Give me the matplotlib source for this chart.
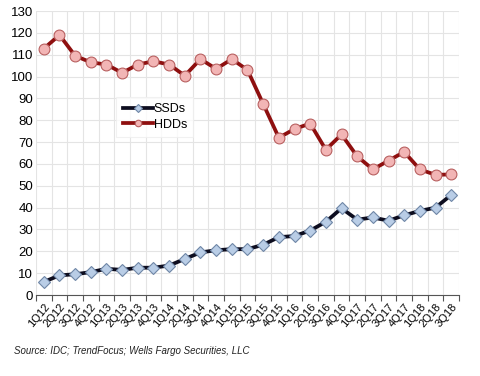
import matplotlib
matplotlib.use("Agg")
import matplotlib.pyplot as plt
import matplotlib.transforms as mtransforms
import numpy as np

plt.rcParams['font.family'] = ['Liberation Sans', 'DejaVu Sans']

quarters = ["1Q12", "2Q12", "3Q12", "4Q12", "1Q13", "2Q13", "3Q13", "4Q13",
            "1Q14", "2Q14", "3Q14", "4Q14", "1Q15", "2Q15", "3Q15", "4Q15",
            "1Q16", "2Q16", "3Q16", "4Q16", "1Q17", "2Q17", "3Q17", "4Q17",
            "1Q18", "2Q18", "3Q18"]
ssd = [6, 9, 9.5, 10.5, 12, 11.5, 12.5, 12.5, 13.5, 16.5, 19.5, 20.5, 21, 21,
       23, 26.5, 27, 29.5, 33.5, 39.7, 34.5, 35.5, 34, 36.5, 38.5, 40, 45.8]
hdd = [112.8, 119, 109.5, 106.5, 105.5, 101.7, 105.5, 107, 105.5, 100.4, 108,
       103.5, 108, 103, 87.5, 72, 76, 78.5, 66.5, 73.5, 63.5, 57.5, 61.5, 65.5,
       57.5, 55, 55.2]
yticks = list(range(0, 131, 10))
source = "Source: IDC; TrendFocus; Wells Fargo Securities, LLC"

fig = plt.figure(figsize=(4.81, 3.76), dpi=100)
ax = fig.add_axes([0.0748, 0.2154, 0.8795, 0.7553])

x = np.arange(len(quarters))
ax.plot(x, ssd, color='#0d0d1f', lw=2.7, marker='D', ms=6.5,
        markerfacecolor='#b9cde6', markeredgecolor='#6f86a6', markeredgewidth=0.8,
        label='SSDs', zorder=3)
ax.plot(x, hdd, color='#8e0f0f', lw=2.7, marker='o', ms=7.8,
        markerfacecolor='#f2b5b5', markeredgecolor='#b86060', markeredgewidth=0.8,
        label='HDDs', zorder=3)

ax.set_xlim(-0.5, len(quarters) - 0.5)
ax.set_ylim(0, 130)
ax.set_yticks(yticks)
ax.set_yticklabels([str(v) for v in yticks], fontsize=9.5)
ax.set_xticks(x)
ax.set_xticklabels(quarters, rotation=50, ha='right', rotation_mode='anchor',
                   fontsize=8)
offset = mtransforms.ScaledTranslation(-3 / 72, 0, fig.dpi_scale_trans)
for lab in ax.get_xticklabels():
    lab.set_transform(lab.get_transform() + offset)
ax.set_xticks(np.arange(len(quarters) + 1) - 0.5, minor=True)
ax.tick_params(axis='x', which='major', length=0, pad=5)
ax.tick_params(axis='x', which='minor', length=4, color='#555555', width=0.8)
ax.tick_params(axis='y', length=0, pad=2)

ax.grid(False)
for v in yticks:
    ax.axhline(v, color='#e4e4e4', lw=0.8, zorder=0)
for b in np.arange(len(quarters) + 1) - 0.5:
    ax.axvline(b, color='#e4e4e4', lw=0.8, zorder=0)

for s in ['top', 'right', 'left']:
    ax.spines[s].set_visible(False)
ax.spines['bottom'].set_color('#555555')
ax.spines['bottom'].set_linewidth(0.8)

leg = ax.legend(loc='upper left', bbox_to_anchor=(0.175, 0.72), fontsize=9,
                frameon=True, fancybox=False, edgecolor='#eeeeee',
                handlelength=2.4, handletextpad=0.1, borderpad=0.5,
                labelspacing=0.3, markerscale=0.6)
leg.get_frame().set_linewidth(0.8)

fig.text(0.03, 0.058, source, fontsize=7, style='italic', color='#222222')

fig.savefig("out.png", dpi=100)
